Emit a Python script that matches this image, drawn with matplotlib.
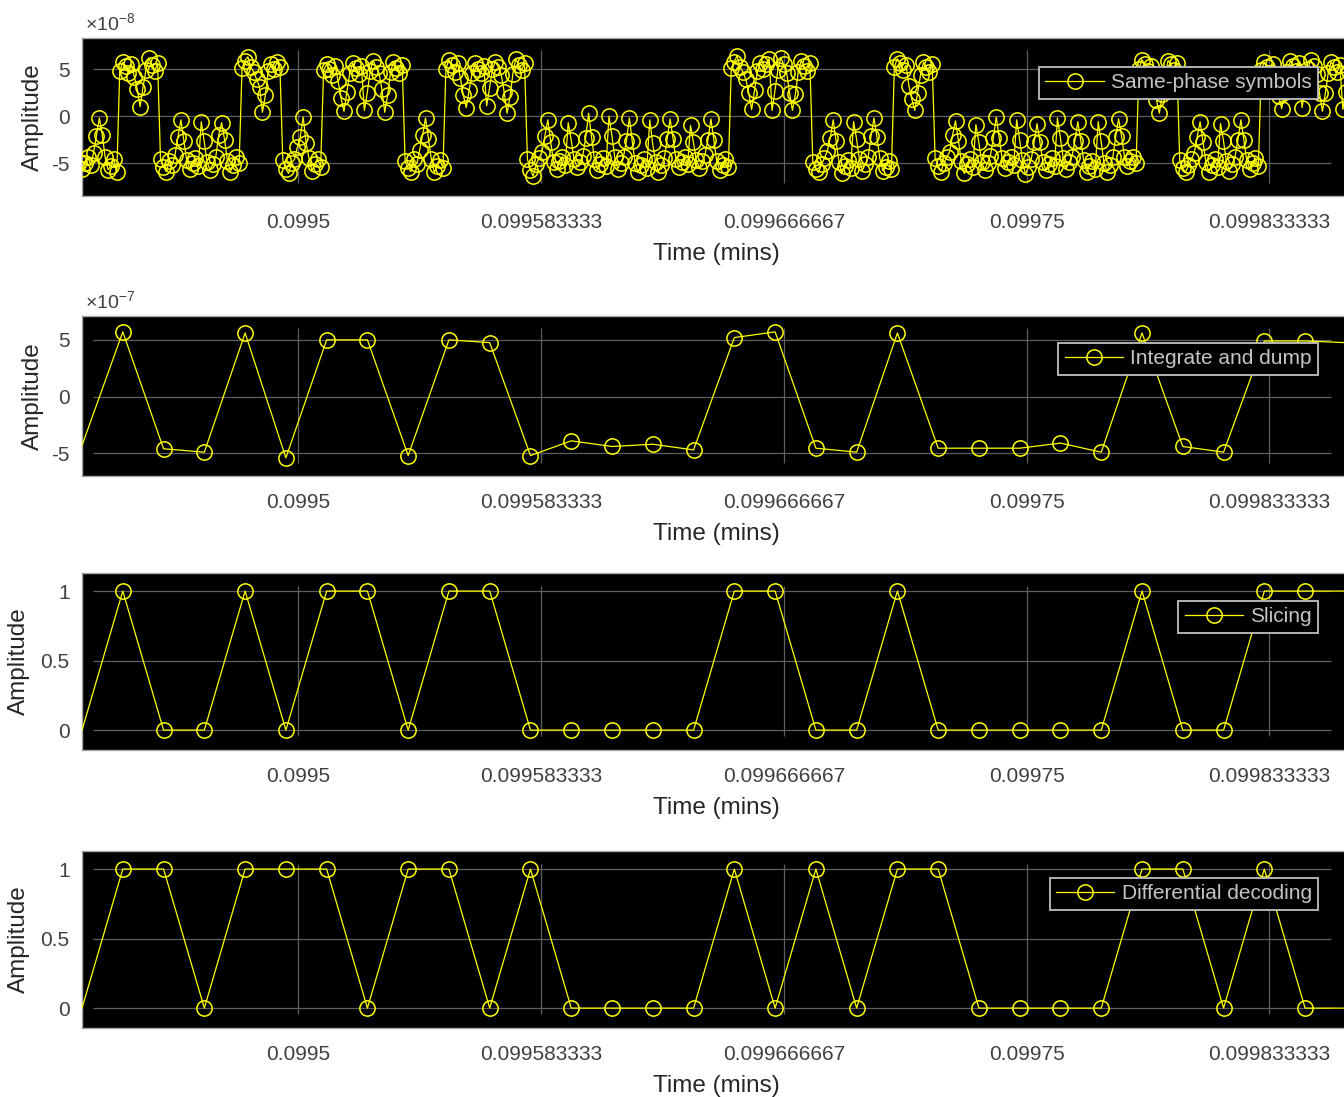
import numpy as np
import matplotlib
matplotlib.use('Agg')
import matplotlib.pyplot as plt
from matplotlib.ticker import FixedLocator, FuncFormatter

plt.rcParams['font.family'] = ['Liberation Sans', 'DejaVu Sans']
plt.rcParams['mathtext.fontset'] = 'custom'
plt.rcParams['mathtext.rm'] = 'Liberation Sans'
plt.rcParams['mathtext.it'] = 'Liberation Sans:italic'

# --- os czasu ---
t_start = 0.0994398      # chwila decyzji k = 0 [min]
t_symbol = 1.39927e-5    # okres symbolu [min]
k_sym = np.arange(-1, 31)  # symbole widoczne w oknie (k = -1 .. 30)

# --- probki w fazie (x1e-8), 14 probek na symbol, symbole k = -1 .. 30 ---
same_phase = [
    [-4.9, -5.6, -5.0, -4.3, -5.2, -3.9, -2.1, -0.2, -2.0, -4.4, -5.7, -5.3, -4.6, -5.9],
    [4.8, 5.7, 5.3, 4.6, 5.5, 4.2, 2.9, 1.0, 3.1, 4.9, 6.2, 5.4, 4.8, 5.6],
    [-4.6, -5.4, -5.9, -4.8, -5.2, -4.1, -2.2, -0.4, -2.6, -4.7, -5.6, -5.0, -4.5, -5.3],
    [-0.6, -2.7, -4.9, -5.7, -5.1, -4.3, -2.0, -0.7, -2.5, -4.8, -5.9, -5.2, -4.4, -5.0],
    [5.1, 5.9, 6.3, 5.2, 4.7, 3.9, 3.1, 0.4, 2.2, 4.8, 5.5, 5.0, 5.7, 5.2],
    [-4.7, -5.6, -6.1, -5.0, -4.6, -3.3, -2.2, -0.1, -2.9, -4.5, -5.8, -5.1, -4.6, -5.4],
    [4.9, 5.5, 5.0, 4.4, 5.3, 3.7, 1.9, 0.5, 2.6, 4.6, 5.6, 5.1, 4.5, 5.3],
    [0.6, 2.5, 4.8, 5.9, 5.2, 4.6, 2.9, 0.4, 2.2, 4.7, 5.8, 5.1, 4.6, 5.4],
    [-4.8, -5.5, -5.9, -4.6, -5.1, -3.6, -2.0, -0.2, -2.4, -4.6, -6.0, -5.3, -4.7, -5.5],
    [5.0, 6.0, 5.4, 4.7, 5.6, 4.0, 2.2, 0.9, 2.8, 4.6, 5.6, 5.0, 4.6, 5.3],
    [1.1, 3.0, 5.0, 5.8, 5.2, 4.4, 2.6, 0.3, 2.0, 4.5, 6.1, 5.4, 4.9, 5.6],
    [-4.6, -5.7, -6.4, -5.1, -4.5, -3.8, -2.1, -0.4, -2.8, -4.9, -5.6, -4.8, -4.3, -5.2],
    [-0.7, -2.5, -4.6, -5.4, -4.9, -4.2, -2.3, 0.3, -2.2, -4.6, -5.7, -5.1, -4.5, -5.3],
    [0.0, -2.1, -4.4, -5.6, -5.0, -4.3, -2.6, -0.2, -2.7, -5.0, -6.0, -5.2, -4.6, -5.5],
    [-0.4, -2.9, -4.9, -5.9, -5.2, -4.5, -2.4, -0.3, -2.4, -4.6, -5.4, -4.9, -4.3, -5.1],
    [-1.0, -2.8, -4.7, -5.5, -4.8, -4.1, -2.5, -0.3, -2.5, -4.8, -5.7, -5.2, -4.6, -5.4],
    [5.1, 5.8, 6.4, 5.2, 4.7, 3.9, 2.4, 0.7, 2.8, 4.8, 5.6, 5.0, 5.5, 6.1],
    [0.6, 2.7, 4.9, 6.2, 5.5, 4.6, 2.5, 0.6, 2.3, 4.7, 5.9, 5.3, 4.8, 5.6],
    [-4.9, -5.6, -6.0, -5.1, -4.5, -3.7, -2.3, -0.4, -2.7, -4.9, -6.1, -5.3, -4.7, -5.5],
    [-0.6, -2.4, -4.6, -5.8, -5.1, -4.4, -2.1, -0.2, -2.2, -4.5, -5.8, -5.4, -4.8, -5.6],
    [5.2, 6.1, 5.6, 4.9, 5.4, 3.2, 1.8, 0.6, 2.5, 4.4, 5.7, 5.2, 4.7, 5.5],
    [-4.5, -5.3, -5.9, -5.0, -4.4, -3.8, -2.0, -0.5, -2.6, -4.8, -6.1, -5.1, -4.6, -5.4],
    [-0.9, -2.8, -4.9, -5.7, -5.0, -4.2, -2.3, -0.1, -2.3, -4.5, -5.5, -4.9, -4.4, -5.2],
    [-0.4, -2.5, -4.7, -6.2, -5.4, -4.6, -2.8, -0.8, -2.8, -4.9, -5.7, -5.1, -4.5, -5.3],
    [-0.2, -2.3, -4.5, -5.6, -4.9, -4.3, -2.6, -0.6, -2.6, -4.7, -5.9, -5.3, -4.8, -5.6],
    [-0.6, -2.7, -5.0, -5.9, -5.2, -4.4, -2.2, -0.3, -2.1, -4.3, -5.3, -4.8, -4.4, -5.0],
    [5.0, 6.0, 5.5, 4.8, 5.3, 3.5, 1.7, 0.3, 2.3, 4.5, 5.9, 5.5, 4.9, 5.6],
    [-4.7, -5.5, -6.0, -5.2, -4.6, -3.9, -2.2, -0.6, -2.8, -4.9, -6.0, -5.2, -4.6, -5.4],
    [-0.8, -2.6, -4.8, -5.8, -5.1, -4.3, -2.5, -0.4, -2.5, -4.7, -5.6, -5.0, -4.5, -5.3],
    [4.9, 5.7, 5.2, 4.6, 5.5, 3.9, 2.1, 0.8, 2.6, 4.7, 5.9, 5.3, 4.8, 5.6],
    [0.9, 2.8, 5.0, 6.0, 5.3, 4.5, 2.4, 0.5, 2.4, 4.6, 5.8, 5.2, 4.7, 5.4],
    [0.7, 2.6, 4.8, 5.7, 5.1, 4.4, 2.3, 0.6, 2.2, 4.5, 5.6, 5.0, 4.6, 5.3],
]

# --- wyjscie integratora (x1e-7), symbole k = -1 .. 30 ---
integrate_dump = [-4.3,
                  5.7, -4.6, -4.9, 5.6, -5.4, 5.0, 5.0, -5.2, 5.0, 4.75,
                  -5.2, -3.9, -4.4, -4.2, -4.7, 5.2, 5.7, -4.55, -4.9, 5.6,
                  -4.55, -4.55, -4.55, -4.1, -4.9, 5.6, -4.4, -4.9, 4.9, 4.9,
                  4.75]

# --- decyzje ---
slicing = [0,
           1, 0, 0, 1, 0, 1, 1, 0, 1, 1,
           0, 0, 0, 0, 0, 1, 1, 0, 0, 1,
           0, 0, 0, 0, 0, 1, 0, 0, 1, 1,
           1]
diff_decoding = [0,
                 1, 1, 0, 1, 1, 1, 0, 1, 1, 0,
                 1, 0, 0, 0, 0, 1, 0, 1, 0, 1,
                 1, 0, 0, 0, 0, 1, 1, 0, 1, 0,
                 0]

xtick_vals = [0.0995, 0.099583333, 0.099666667, 0.09975, 0.099833333]
xtick_labels = ['0.0995', '0.099583333', '0.099666667', '0.09975', '0.099833333']
legend_labels = ['Same-phase symbols', 'Integrate and dump', 'Slicing', 'Differential decoding']

# czasy
n_per_sym = len(same_phase[0])
t_dec = t_start + k_sym * t_symbol
offs = np.arange(n_per_sym) / n_per_sym - 0.075
t_samp = (t_start + (k_sym[:, None] + offs[None, :]) * t_symbol).ravel()
amp_samp = np.array(same_phase).ravel() * 1e-8
amp_dump = np.array(integrate_dump) * 1e-7

# --- uklad ---
W, H = 1344, 1097
px_per_tick = 242.8
scale = (xtick_vals[1] - xtick_vals[0]) / px_per_tick
x_left = xtick_vals[0] + (82 - 298.2) * scale
x_right = xtick_vals[0] + (1350 - 298.2) * scale

fig = plt.figure(figsize=(W / 100, H / 100), dpi=100)
boxes = [(38, 196), (316, 476), (573, 750), (851, 1028)]
legend_top = [67, 343, 601, 878]

series = [
    (t_samp, amp_samp, 1e-8, (-8.5e-8, 8.3e-8), [-5e-8, 0, 5e-8], r'$\times10^{-8}$', None),
    (t_dec, amp_dump, 1e-7, (-7.0e-7, 7.1e-7), [-5e-7, 0, 5e-7], r'$\times10^{-7}$', slice(1, -1)),
    (t_dec, slicing, 1, (-0.143, 1.13), [0, 0.5, 1], None, slice(1, -1)),
    (t_dec, diff_decoding, 1, (-0.143, 1.13), [0, 0.5, 1], None, slice(1, -1)),
]

yellow = '#ffff00'
txt_col = '#404040'

for i, ((top, bot), (tx, yy, mult, ylim, yt, expo, mev)) in enumerate(zip(boxes, series)):
    ax = fig.add_axes([82 / W, 1 - bot / H, (1350 - 82) / W, (bot - top) / H])
    ax.set_facecolor('black')
    ax.plot(tx, yy, '-o', color=yellow, lw=0.9, ms=11, mfc='none', mec=yellow,
            mew=1.1, markevery=mev, label=legend_labels[i], zorder=3)
    ax.set_xlim(x_left, x_right)
    ax.set_ylim(*ylim)

    ax.xaxis.set_major_locator(FixedLocator(xtick_vals))
    ax.set_xticklabels(xtick_labels)
    ax.yaxis.set_major_locator(FixedLocator(yt))
    ax.yaxis.set_major_formatter(FuncFormatter(lambda v, p, m=mult: f'{v / m:g}'))
    ax.tick_params(length=0, labelsize=15, colors=txt_col)
    ax.tick_params(axis='x', pad=12)
    ax.tick_params(axis='y', pad=9)

    # siatka (krotsza niz osie, jak w scope)
    ax.hlines(yt, 0.0087, 0.985, transform=ax.get_yaxis_transform(),
              colors='#5f5f5f', lw=0.9, zorder=1)
    ax.vlines(xtick_vals, 0.08, 0.925, transform=ax.get_xaxis_transform(),
              colors='#5f5f5f', lw=0.9, zorder=1)

    for sp in ax.spines.values():
        sp.set_color('#a8a8a8')
        sp.set_linewidth(1.0)

    ax.set_xlabel('Time (mins)', fontsize=17.5, color='#262626', labelpad=8)
    ax.set_ylabel('Amplitude', fontsize=17.5, color='#262626')
    ax.yaxis.set_label_coords(-0.030 if expo else -0.041, 0.5)

    if expo:
        ax.text(0.002, 1.025, expo, transform=ax.transAxes, ha='left', va='bottom',
                fontsize=14, color=txt_col)

    leg = ax.legend(loc='upper right', bbox_to_anchor=(1318 / W, 1 - legend_top[i] / H),
                    bbox_transform=fig.transFigure, borderaxespad=0, fontsize=15,
                    frameon=True, fancybox=False, facecolor='black', edgecolor='#c0c0c0',
                    framealpha=1, handlelength=2.8, handletextpad=0.35, borderpad=0.3)
    leg.get_frame().set_linewidth(1.3)
    for t in leg.get_texts():
        t.set_color('#c4c4c4')

fig.savefig('out.png', dpi=100, facecolor='white')
